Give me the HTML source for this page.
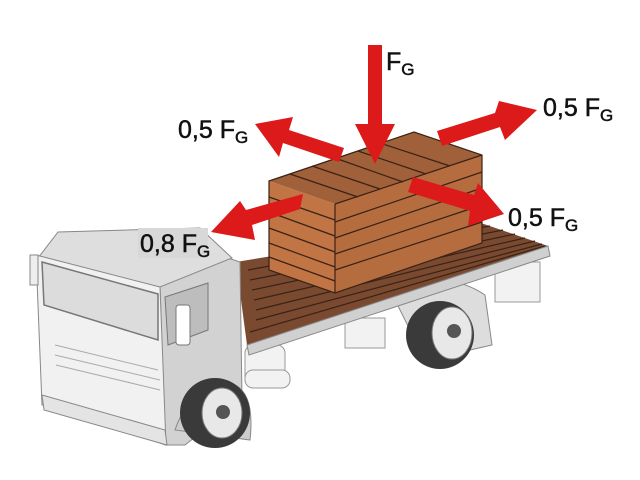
<!DOCTYPE html>
<html><head><style>body{margin:0;background:#fff}svg{display:block}</style></head><body>
<svg width="640" height="480" viewBox="0 0 640 480" xmlns="http://www.w3.org/2000/svg" font-family="Liberation Sans, Arial, sans-serif">
<rect width="640" height="480" fill="#fff"/>
<!-- chassis blocks under bed -->
<g fill="#f2f2f2" stroke="#999" stroke-width="1">
<rect x="495" y="262" width="45" height="40"/>
<rect x="345" y="318" width="40" height="30"/>
<rect x="245" y="345" width="40" height="40" rx="8"/>
<rect x="245" y="370" width="45" height="18" rx="8"/>
</g>
<!-- rear wheel -->
<path d="M395,300 Q440,265 485,295 L492,345 L470,350 Q445,300 410,330 Z" fill="#ddd" stroke="#888"/>
<circle cx="440" cy="335" r="34" fill="#3a3a3a"/>
<ellipse cx="452" cy="333" rx="20" ry="26" fill="#e8e8e8" stroke="#777"/>
<circle cx="454" cy="331" r="7" fill="#555"/>
<!-- bed -->
<polygon points="236,262 478,222 548,246 247,345" fill="#7a4a30"/>
<g stroke="#3a2216" stroke-width="1.2">
<line x1="248" y1="270" x2="490" y2="226"/><line x1="250" y1="280" x2="503" y2="230"/><line x1="252" y1="290" x2="515" y2="234"/><line x1="254" y1="300" x2="525" y2="238"/><line x1="256" y1="310" x2="535" y2="241"/><line x1="256" y1="320" x2="542" y2="244"/><line x1="250" y1="332" x2="545" y2="246"/>
</g>
<polygon points="247,345 548,246 550,256 249,355" fill="#d0d0d0" stroke="#888"/>
<!-- crate -->
<polygon points="269,181 414,132 482,155 335,204" fill="#a0603a"/>
<polygon points="335,204 482,155 482,243 335,293" fill="#b56d40"/>
<polygon points="269,181 335,204 335,293 269,270" fill="#c17545"/>
<g stroke="#3a2216" stroke-width="1.2" fill="none">
<line x1="290" y1="174" x2="358" y2="197"/><line x1="312" y1="166" x2="380" y2="189"/><line x1="335" y1="158" x2="403" y2="182"/><line x1="358" y1="151" x2="426" y2="174"/><line x1="380" y1="143" x2="450" y2="166"/>
<line x1="335" y1="222" x2="482" y2="172"/><line x1="335" y1="238" x2="482" y2="188"/><line x1="335" y1="254" x2="482" y2="205"/><line x1="335" y1="270" x2="482" y2="222"/>
<line x1="269" y1="197" x2="335" y2="220"/><line x1="269" y1="212" x2="335" y2="236"/><line x1="269" y1="228" x2="335" y2="252"/><line x1="269" y1="243" x2="335" y2="267"/><line x1="269" y1="257" x2="335" y2="281"/>
<polygon points="269,181 414,132 482,155 482,243 335,293 269,270"/>
<line x1="335" y1="204" x2="335" y2="293"/><line x1="335" y1="204" x2="482" y2="155"/>
</g>
<!-- cab -->
<polygon points="160,285 228,258 240,262 242,400 185,445 165,445" fill="#d2d2d2" stroke="#888"/>
<polygon points="38,258 58,232 200,228 232,258 160,287" fill="#dedede" stroke="#888"/>
<polygon points="36,255 160,287 166,445 42,405" fill="#f1f1f1" stroke="#888"/>
<polygon points="42,262 158,294 158,340 44,305" fill="#dcdcdc" stroke="#777" stroke-width="1.5"/>
<polygon points="165,297 208,283 208,330 168,345" fill="#bdbdbd" stroke="#777"/>
<rect x="176" y="305" width="14" height="40" rx="3" fill="#fff" stroke="#777"/>
<rect x="30" y="255" width="8" height="30" fill="#eee" stroke="#888"/>
<g stroke="#aaa"><line x1="55" y1="345" x2="158" y2="370"/><line x1="55" y1="355" x2="160" y2="380"/><line x1="56" y1="365" x2="160" y2="390"/></g>
<polygon points="42,395 165,430 167,445 44,410" fill="#e4e4e4" stroke="#888"/>
<!-- front wheel -->
<path d="M175,430 Q190,385 235,385 Q255,395 250,440 Z" fill="#ccc" stroke="#888"/>
<circle cx="215" cy="413" r="35" fill="#3a3a3a"/>
<ellipse cx="222" cy="413" rx="20" ry="25" fill="#e8e8e8" stroke="#777"/>
<circle cx="223" cy="412" r="7" fill="#555"/>
<!-- arrows -->
<g fill="#dd1a1a">
<polygon points="368,45 382,45 382,124 395,124 375,164 355,124 368,124"/>
<polygon points="344,148 339,162 283,143 279,157 255,124 293,117 289,130"/>
<polygon points="437,131 442,146 500,127 505,140 537,110 499,101 495,113"/>
<polygon points="413,177 408,192 470,211 468,226 504,214 478,183 474,195"/>
<polygon points="303,194 300,209 252,225 255,240 211,232 240,201 246,210"/>
</g>
<!-- labels -->
<rect x="138" y="228" width="70" height="30" fill="#d8d8d8"/>
<g font-size="25" fill="#111" stroke="#111" stroke-width="0.5">
<text x="386" y="70">F<tspan font-size="17" dy="5">G</tspan></text>
<text x="178" y="138">0,5 F<tspan font-size="17" dy="5">G</tspan></text>
<text x="543" y="116">0,5 F<tspan font-size="17" dy="5">G</tspan></text>
<text x="508" y="226">0,5 F<tspan font-size="17" dy="5">G</tspan></text>
<text x="140" y="252">0,8 F<tspan font-size="17" dy="5">G</tspan></text>
</g>
</svg>
</body></html>
